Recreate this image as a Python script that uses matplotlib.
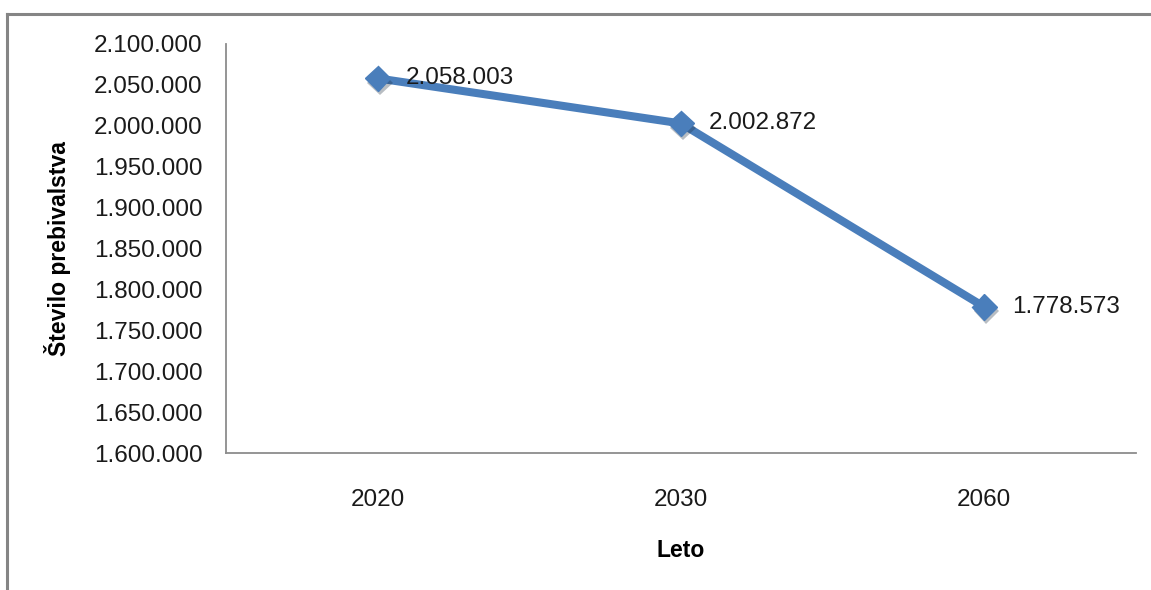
import matplotlib
matplotlib.use("Agg")
import matplotlib.pyplot as plt
import matplotlib.patheffects as pe
from matplotlib.lines import Line2D
from matplotlib.ticker import FuncFormatter

years = ["2020", "2030", "2060"]
population = [2058003, 2002872, 1778573]
y_ticks = list(range(1600000, 2100001, 50000))

BLUE = "#4A7EBB"
FONT = "Liberation Sans"


def dotted(v):
    # Slovenian thousands separator
    return f"{int(v):,}".replace(",", ".")


fig = plt.figure(figsize=(11.51, 5.90), dpi=100)
ax = fig.add_axes([226 / 1151, 1 - 453 / 590, 910 / 1151, 409 / 590])

x = [i + 0.5 for i in range(len(years))]
ax.plot(x, population, color=BLUE, lw=5.8, solid_capstyle="butt", zorder=2)
ax.plot(x, population, ls="none", marker="D", ms=13, color=BLUE,
        markeredgecolor=BLUE, zorder=3,
        path_effects=[pe.SimplePatchShadow(offset=(1.5, -3), alpha=0.3),
                      pe.Normal()])
for xi, v in zip(x, population):
    ax.annotate(dotted(v), (xi, v), xytext=(20, 0), textcoords="offset points",
                va="center", ha="left", fontsize=17.5, family=FONT,
                color="#1a1a1a", zorder=4)

ax.set_xlim(0, len(years))
ax.set_ylim(1600000, 2100000)
ax.set_xticks(x)
ax.set_xticklabels(years)
ax.set_yticks(y_ticks)
ax.yaxis.set_major_formatter(FuncFormatter(lambda v, p: dotted(v)))
ax.tick_params(axis="both", length=0, labelsize=17.5, colors="#1a1a1a")
ax.tick_params(axis="y", pad=17)
ax.tick_params(axis="x", pad=26)
for lab in ax.get_xticklabels() + ax.get_yticklabels():
    lab.set_family(FONT)

for side in ("top", "right"):
    ax.spines[side].set_visible(False)
for side in ("left", "bottom"):
    ax.spines[side].set_color("#8c8c8c")
    ax.spines[side].set_linewidth(1.3)

ax.set_ylabel("Število prebivalstva", fontsize=16.5, fontweight="bold",
              family=FONT, labelpad=16)
ax.set_xlabel("Leto", fontsize=16.5, fontweight="bold", family=FONT, labelpad=20)

# chart-area frame (only top and left edges fall inside the image)
fig.add_artist(Line2D([7 / 1151, 1], [1 - 14 / 590, 1 - 14 / 590],
                      transform=fig.transFigure, color="#858585", lw=2.2))
fig.add_artist(Line2D([7 / 1151, 7 / 1151], [0, 1 - 14 / 590],
                      transform=fig.transFigure, color="#858585", lw=2.2))

fig.savefig("out.png", dpi=100)
